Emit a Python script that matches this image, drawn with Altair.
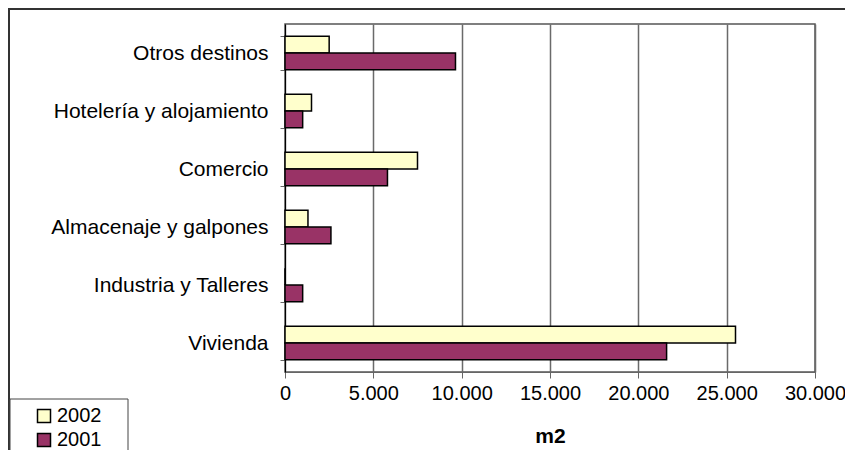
import altair as alt
import pandas as pd

categories = ["Otros destinos", "Hotelería y alojamiento", "Comercio",
              "Almacenaje y galpones", "Industria y Talleres", "Vivienda"]
years = ["2002", "2001"]
values_2002 = [2500, 1500, 7500, 1300, 0, 25500]
values_2001 = [9650, 1000, 5800, 2600, 1000, 21600]
x_ticks = [0, 5000, 10000, 15000, 20000, 25000, 30000]
colors = ["#FFFFCC", "#993366"]

rows = []
for c, a, b in zip(categories, values_2002, values_2001):
    rows.append({"cat": c, "year": "2002", "m2": a})
    rows.append({"cat": c, "year": "2001", "m2": b})
df = pd.DataFrame(rows)

FONT = "Liberation Sans"

bars = alt.Chart(df).mark_bar(stroke="black", strokeWidth=1.5).encode(
    y=alt.Y("cat:N", sort=categories,
            scale=alt.Scale(paddingInner=0.42, paddingOuter=0.21),
            axis=alt.Axis(title=None, tickBand="extent", tickSize=5, labelPadding=12,
                          labelFontSize=21, labelFont=FONT, labelColor="black",
                          labelLimit=400, domainColor="black", tickColor="#666",
                          grid=False)),
    yOffset=alt.YOffset("year:N", sort=years,
                        scale=alt.Scale(paddingInner=0, paddingOuter=0)),
    x=alt.X("m2:Q", scale=alt.Scale(domain=[0, 30000], nice=False),
            axis=alt.Axis(title="m2", values=x_ticks, tickSize=6, labelPadding=5,
                          labelFontSize=20, labelFont=FONT, labelColor="black",
                          labelOverlap=False, labelFlush=False,
                          labelExpr="replace(format(datum.value, ','), ',', '.')",
                          titleFontSize=21, titleFont=FONT, titleFontWeight="bold",
                          titleColor="black", titlePadding=22,
                          grid=True, gridColor="#6a6a6a", gridWidth=1.5,
                          domainColor="#666", tickColor="#666")),
    color=alt.Color("year:N", sort=years,
                    scale=alt.Scale(domain=years, range=colors),
                    legend=alt.Legend(title=None, orient="none", legendX=-251, legendY=382,
                                      symbolType="square", symbolSize=169,
                                      symbolStrokeColor="black", symbolStrokeWidth=1.5,
                                      labelFontSize=20, labelFont=FONT, labelColor="black",
                                      labelOffset=3, rowPadding=4, padding=0)),
)

frame = alt.Chart(alt.Data(values=[{"k": 1}])).mark_rect(
    filled=False, stroke="#333", strokeWidth=2
).encode(x=alt.value(-276), x2=alt.value(600), y=alt.value(-15), y2=alt.value(520))

legbox = alt.Chart(alt.Data(values=[{"k": 1}])).mark_rect(
    fill="white", stroke="#444", strokeWidth=1
).encode(x=alt.value(-275), x2=alt.value(-157), y=alt.value(375), y2=alt.value(520))

chart = alt.layer(frame, bars, legbox).properties(
    width=530, height=348,
    autosize=alt.AutoSizeParams(type="none"),
    padding={"left": 277, "top": 16, "right": 30, "bottom": 78},
    background="white",
).configure_view(stroke="#555", strokeWidth=1.5)

chart.save("out.html", embed_options={"renderer": "svg", "actions": False})
